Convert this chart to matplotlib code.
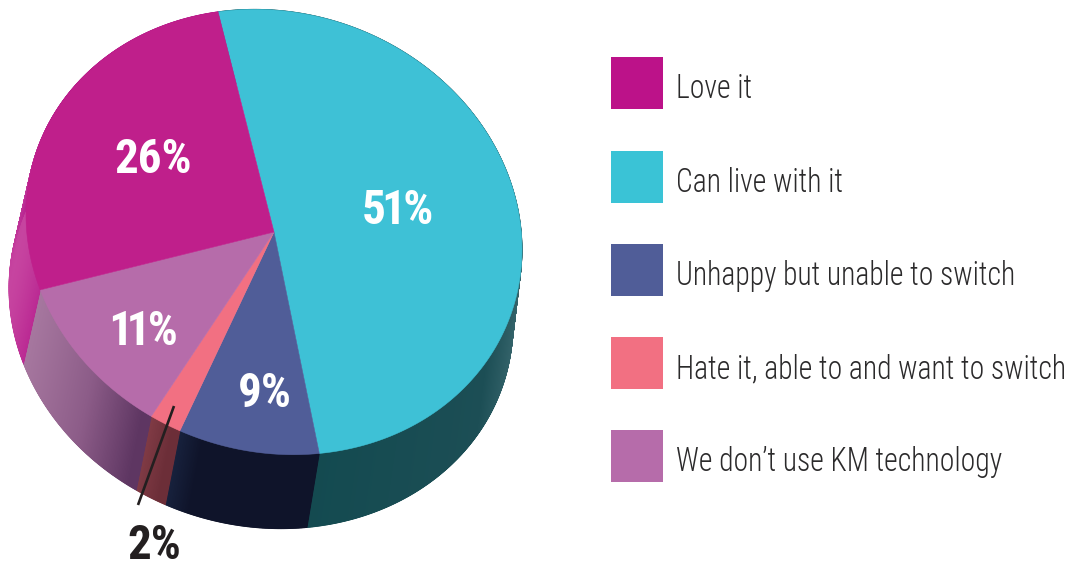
import os
import tempfile
import numpy as np
import matplotlib
matplotlib.use("Agg")
import matplotlib.pyplot as plt
from fontTools.ttLib import TTFont
from matplotlib import font_manager as fm
from matplotlib.colors import to_rgb
from matplotlib.patches import Polygon, Rectangle

# Survey shares
categories = ["Love it", "Can live with it", "Unhappy but unable to switch",
              "Hate it, able to and want to switch", "We don\u2019t use KM technology"]
values = [26, 51, 9, 2, 11]
value_labels = ["26%", "51%", "9%", "2%", "11%"]

face_colors = ["#BF1F8B", "#3EC1D6", "#505D98", "#F27082", "#B66CAA"]
swatch_colors = ["#BC1289", "#3AC3D6", "#505D98", "#F27082", "#B66CAA"]
# Horizontal shading of each slice's rim: (x position, colour)
rim_shades = [
    [(8, "#CE55A8"), (42, "#B2178A")],
    [(303, "#134A50"), (480, "#1C4E55"), (515, "#34636A")],
    [(163, "#1B2745"), (195, "#0F142A"), (305, "#0F142A")],
    [(135, "#88404A"), (165, "#6C2E38")],
    [(22, "#AB7CA3"), (85, "#8C5C88"), (135, "#5E3662")],
]


def narrowed_font(weight, factor, one_trim=0):
    """Write a copy of Roboto Condensed squeezed horizontally and return its properties.

    one_trim tightens the digit 1 (font units), since its default width is tabular.
    """
    source = fm.findfont(fm.FontProperties(family="Roboto Condensed", weight=weight))
    font = TTFont(source)
    glyf, hmtx = font["glyf"], font["hmtx"]
    for name in font.getGlyphOrder():
        glyph = glyf[name]
        if glyph.isComposite():
            for comp in glyph.components:
                comp.x = round(comp.x * factor)
        elif glyph.numberOfContours > 0:
            glyph.coordinates.scale((factor, 1))
            glyph.coordinates.toInt()
        advance, bearing = hmtx[name]
        hmtx[name] = (round(advance * factor), round(bearing * factor))
    if one_trim:
        glyf["one"].coordinates.translate((-one_trim // 2, 0))
        advance, bearing = hmtx["one"]
        hmtx["one"] = (advance - one_trim, bearing - one_trim // 2)
    for table in ("fpgm", "prep", "cvt ", "hdmx", "GPOS", "GSUB", "GDEF", "kern"):
        if table in font:
            del font[table]
    path = os.path.join(tempfile.mkdtemp(), f"roboto-narrow-{weight}.ttf")
    font.save(path)
    return fm.FontProperties(fname=path)


WIDTH, HEIGHT = 1069, 571
fig = plt.figure(figsize=(WIDTH / 100, HEIGHT / 100), dpi=100)
ax = fig.add_axes([0, 0, 1, 1])
ax.set_xlim(0, WIDTH)
ax.set_ylim(HEIGHT, 0)
ax.axis("off")

TOP = dict(cx=274, cy=232, a=248, b=222)
BASE = dict(cx=261, cy=306, a=252, b=222)
TILT = 0.07          # the disc leans: right side lower than left
FIRST_ANGLE = -14.5  # degrees clockwise from twelve o'clock


def on_rim(theta_deg, ell):
    # A slight cosine term stands in for perspective foreshortening
    t = np.radians(theta_deg + 1.5 * np.cos(np.radians(theta_deg)))
    dx = ell["a"] * np.sin(t)
    return np.column_stack([ell["cx"] + dx, ell["cy"] - ell["b"] * np.cos(t) + TILT * dx])


def shade(stops, x):
    xs = [s[0] for s in stops]
    rgb = np.array([to_rgb(s[1]) for s in stops])
    return tuple(np.interp(x, xs, rgb[:, i]) for i in range(3))


# Slice boundaries come straight from the shares: pink ends where cyan starts
edges = np.cumsum([0] + values[1:] + values[:1]) * 360 / sum(values) + FIRST_ANGLE
order = [1, 2, 3, 4, 0]

# Rim first, one thin strip per step so the shading runs smoothly
for k, idx in enumerate(order):
    ang = np.linspace(edges[k], edges[k + 1], max(int(edges[k + 1] - edges[k]) * 6, 12))
    top_pts, base_pts = on_rim(ang, TOP), on_rim(ang, BASE)
    for j in range(len(ang) - 1):
        quad = np.vstack([top_pts[j], top_pts[j + 1], base_pts[j + 1], base_pts[j]])
        col = shade(rim_shades[idx], quad[:, 0].mean())
        ax.add_patch(Polygon(quad, closed=True, facecolor=col, edgecolor=col, lw=0.6, zorder=1))

# Top face
for k, idx in enumerate(order):
    ang = np.linspace(edges[k], edges[k + 1], 200)
    pts = np.vstack([[TOP["cx"], TOP["cy"]], on_rim(ang, TOP)])
    ax.add_patch(Polygon(pts, closed=True, facecolor=face_colors[idx],
                         edgecolor=face_colors[idx], lw=0.4, zorder=2))

# Value labels
label_font = narrowed_font("bold", 0.97, one_trim=230)
label_pos = [(153, 155), (398, 206), (265, 389), (154, 541), (145, 327)]
for txt, (x, y), col in zip(value_labels, label_pos, ["white", "white", "white", "#231F20", "white"]):
    ax.text(x, y, txt, color=col, ha="center", va="center_baseline", fontproperties=label_font,
            fontsize=35, zorder=4)

# Leader line for the smallest slice
ax.plot([174, 138], [406, 505], color="#231F20", lw=1.9, solid_capstyle="butt", zorder=3)

# Legend
legend_font = narrowed_font("light", 0.888)
swatch_top = [57, 151, 244, 337, 430]
for name, col, y in zip(categories, swatch_colors, swatch_top):
    ax.add_patch(Rectangle((611, y), 52, 52, facecolor=col, edgecolor="none", zorder=2))
    ax.text(675.5, y + 29, name, color="#2B2A2B", ha="left", va="center_baseline",
            fontproperties=legend_font, fontsize=24, zorder=4)

fig.savefig("out.png", dpi=100, facecolor="white")
